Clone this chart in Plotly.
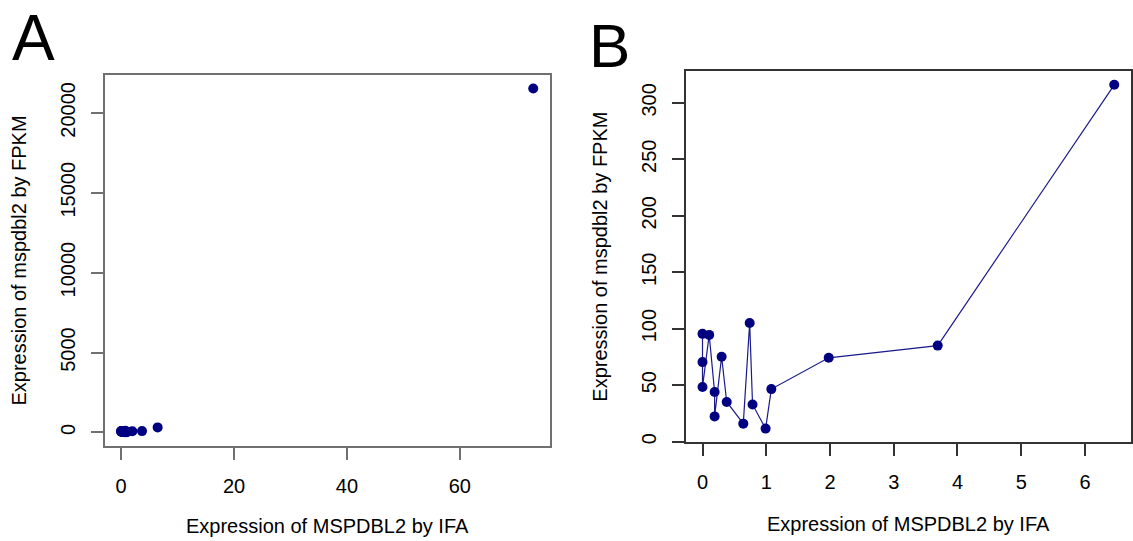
import plotly.graph_objects as go

# MSPDBL2 expression per sample: IFA score vs RNA-seq FPKM (ordered by IFA)
ifa = [0.0, 0.0, 0.0, 0.105, 0.19, 0.19, 0.30, 0.38, 0.64, 0.74, 0.785, 0.99, 1.08, 1.98, 3.69, 6.46]
fpkm = [95.4, 70.4, 48.3, 94.5, 43.9, 22.3, 75.1, 35.1, 15.9, 105.1, 32.9, 11.5, 46.5, 74.2, 85.0, 316.0]

# Extreme sample shown only in the full-range panel
outlier_ifa = [73.0]
outlier_fpkm = [21530.0]

a_xticks = [0, 20, 40, 60]
a_yticks = [0, 5000, 10000, 15000, 20000]
b_xticks = [0, 1, 2, 3, 4, 5, 6]
b_yticks = [0, 50, 100, 150, 200, 250, 300]

x_title = "Expression of MSPDBL2 by IFA"
y_title = "Expression of mspdbl2 by FPKM"

NAVY = "#000080"
FONT = "Liberation Sans, Arial, Helvetica, sans-serif"
TXT = 20


def padded(vals):
    lo, hi = min(vals), max(vals)
    d = (hi - lo) * 0.04
    return [lo - d, hi + d]


all_x = ifa + outlier_ifa
all_y = fpkm + outlier_fpkm

fig = go.Figure()

fig.add_trace(go.Scatter(
    x=all_x, y=all_y, mode="markers",
    marker=dict(color=NAVY, size=10, line=dict(width=0)),
    xaxis="x", yaxis="y", showlegend=False,
))

fig.add_trace(go.Scatter(
    x=ifa, y=fpkm, mode="lines+markers",
    line=dict(color="#1a1a8c", width=1.2),
    marker=dict(color=NAVY, size=10, line=dict(width=0)),
    xaxis="x2", yaxis="y2", showlegend=False,
))


def axis_style(color, width):
    return dict(
        showline=True, mirror=True, linecolor=color, linewidth=width,
        ticks="outside", ticklen=12, tickwidth=1.5, tickcolor=color,
        showgrid=False, zeroline=False,
        tickfont=dict(family=FONT, size=TXT, color="black"),
    )


fig.update_layout(
    width=1133, height=541,
    margin=dict(l=0, r=0, t=0, b=0),
    paper_bgcolor="white", plot_bgcolor="white",
    font=dict(family=FONT, color="black"),
    xaxis=dict(domain=[0.0924, 0.4852], range=padded(all_x),
               tickvals=a_xticks, ticklabelstandoff=9, anchor="y",
               **axis_style("#707070", 2)),
    yaxis=dict(domain=[0.1725, 0.8614], range=padded(all_y),
               tickvals=a_yticks, tickformat="d", tickangle=-90,
               ticklabelstandoff=8, anchor="x",
               **axis_style("#707070", 2)),
    xaxis2=dict(domain=[0.6055, 0.998], range=padded(ifa),
                tickvals=b_xticks, ticklabelstandoff=9, anchor="y2",
                **axis_style("#333333", 1.5)),
    yaxis2=dict(domain=[0.1793, 0.8682], range=padded(fpkm),
                tickvals=b_yticks, tickformat="d", tickangle=-90,
                ticklabelstandoff=8, anchor="x2",
                **axis_style("#333333", 1.5)),
)

annotations = [
    dict(text="A", x=0.0088, y=1.0, xanchor="left", yanchor="top",
         font=dict(size=64)),
    dict(text="B", x=0.518, y=1.0, yshift=-9, xanchor="left", yanchor="top",
         font=dict(size=62)),
    dict(text=x_title, x=0.2888, y=0.024, xanchor="center", yanchor="middle",
         font=dict(size=TXT)),
    dict(text=x_title, x=0.8017, y=0.0277, xanchor="center", yanchor="middle",
         font=dict(size=TXT)),
    dict(text=y_title, x=0.0172, y=0.5176, xanchor="center", yanchor="middle",
         textangle=-90, font=dict(size=TXT)),
    dict(text=y_title, x=0.5296, y=0.5239, xanchor="center", yanchor="middle",
         textangle=-90, font=dict(size=TXT)),
]
for a in annotations:
    a.update(xref="paper", yref="paper", showarrow=False)
fig.update_layout(annotations=annotations)

fig.write_html("out.html")
